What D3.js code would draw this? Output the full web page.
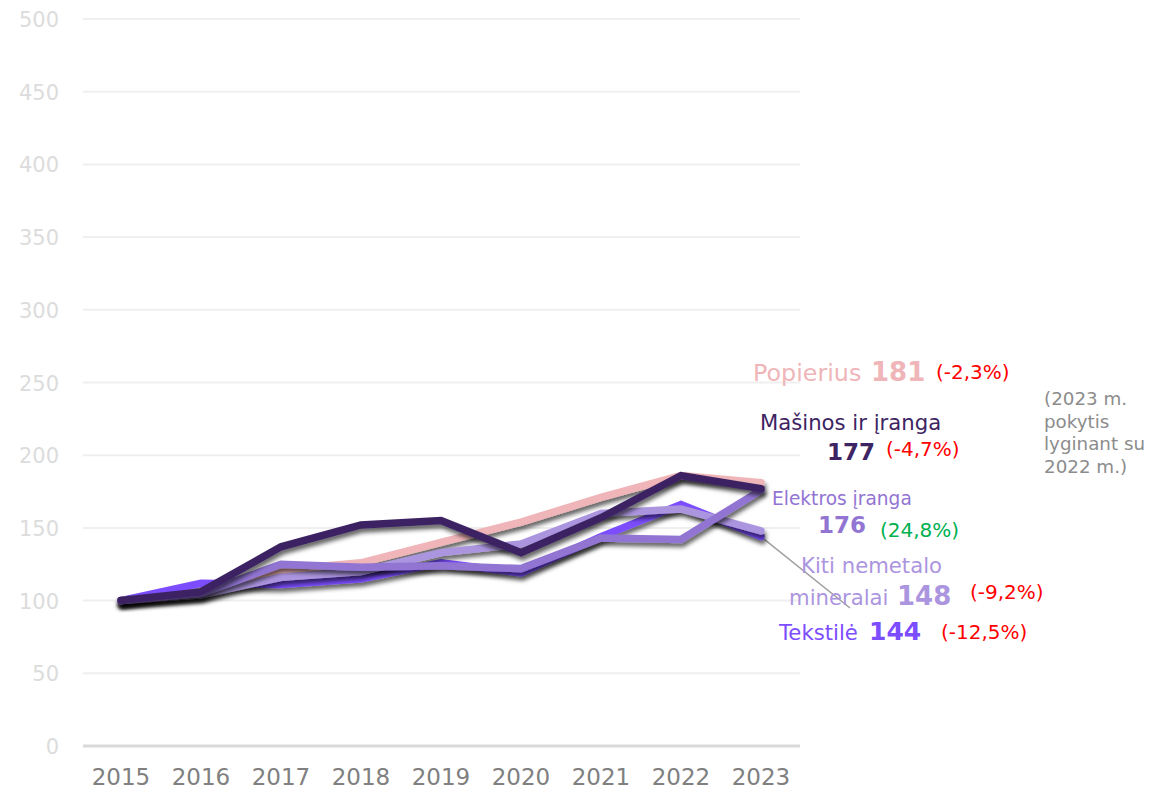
<!DOCTYPE html>
<html>
<head>
<meta charset="utf-8">
<script src="https://cdn.jsdelivr.net/npm/d3@7"></script>
<style>
    body { margin: 0; background: #fff; }
    svg text { font-family: "DejaVu Sans", Verdana, sans-serif; }
</style>
</head>
<body>
<svg id="chart" width="1149" height="791"></svg>
<script>
// index, 2015 = 100
var years = [2015, 2016, 2017, 2018, 2019, 2020, 2021, 2022, 2023];
var yTicks = [0, 50, 100, 150, 200, 250, 300, 350, 400, 450, 500];

var tekstile = [100, 112, 111, 115, 126, 119, 144, 166, 144];
var popierius = [100, 104, 121, 126, 140, 154, 171, 186, 181];
var kiti = [100, 104, 116, 120, 133, 139, 160, 163, 148];
var elektros = [100, 105, 125, 123, 124, 122, 143, 142, 176];
var masinos = [100, 106, 137, 152, 155, 133, 157, 186, 177];

// drawn back to front
var series = [
    {name: 'Tekstilė', values: tekstile, color: '#7c4dff'},
    {name: 'Popierius', values: popierius, color: '#efb5b8'},
    {name: 'Kiti nemetalo mineralai', values: kiti, color: '#ac95df'},
    {name: 'Elektros įranga', values: elektros, color: '#9274d3'},
    {name: 'Mašinos ir įranga', values: masinos, color: '#3d2463'}
];

var changes = ['-12,5%', '-2,3%', '-9,2%', '24,8%', '-4,7%'];

var svg = d3.select('#chart');
var margin = {top: 19, left: 83, right: 349, bottom: 45};
var width = 1149 - margin.left - margin.right;
var height = 791 - margin.top - margin.bottom;

var x = d3.scalePoint().domain(years).range([121, 761]);
var y = d3.scaleLinear().domain([0, 500]).range([746, 19]);

var defs = svg.append('defs');
var f = defs.append('filter').attr('id', 'shadow')
    .attr('x', '-10%').attr('y', '-30%').attr('width', '120%').attr('height', '160%');
f.append('feDropShadow')
    .attr('dx', 1.5).attr('dy', 4).attr('stdDeviation', 2)
    .attr('flood-color', '#000').attr('flood-opacity', 0.6);

// grid
svg.append('g').selectAll('line')
    .data(yTicks.filter(function (d) { return d > 0; }))
    .enter().append('line')
    .attr('x1', margin.left).attr('x2', margin.left + width)
    .attr('y1', y).attr('y2', y)
    .attr('stroke', '#efefef').attr('stroke-width', 2);

svg.append('line')
    .attr('x1', margin.left).attr('x2', margin.left + width)
    .attr('y1', y(0)).attr('y2', y(0))
    .attr('stroke', '#d9d9d9').attr('stroke-width', 3);

// y labels
svg.append('g').selectAll('text')
    .data(yTicks)
    .enter().append('text')
    .attr('x', 59).attr('y', function (d) { return y(d) + 8; })
    .attr('text-anchor', 'end')
    .attr('font-size', 21).attr('fill', '#dcdcdc')
    .text(function (d) { return d; });

// x labels
svg.append('g').selectAll('text')
    .data(years)
    .enter().append('text')
    .attr('x', x).attr('y', 785)
    .attr('text-anchor', 'middle')
    .attr('font-size', 23).attr('fill', '#808080')
    .text(function (d) { return d; });

// leader for Tekstilė
svg.append('line')
    .attr('x1', x(2023)).attr('y1', y(tekstile[8]))
    .attr('x2', 850).attr('y2', 608)
    .attr('stroke', '#a0a0a0').attr('stroke-width', 1.5);

var line = d3.line()
    .x(function (d, i) { return x(years[i]); })
    .y(function (d) { return y(d); });

svg.append('g').selectAll('path')
    .data(series)
    .enter().append('path')
    .attr('d', function (d) { return line(d.values); })
    .attr('fill', 'none')
    .attr('stroke', function (d) { return d.color; })
    .attr('stroke-width', 7.5)
    .attr('stroke-linecap', 'round')
    .attr('filter', 'url(#shadow)');

// end labels
function txt(str, px, py, size, color, bold) {
    svg.append('text')
        .attr('x', px).attr('y', py)
        .attr('font-size', size)
        .attr('font-weight', bold ? 'bold' : 'normal')
        .attr('fill', color)
        .text(str);
}

var red = '#ff0000', green = '#00b050';

txt('Popierius', 753, 381, 23.8, series[1].color);
txt(popierius[8], 871, 381, 26, series[1].color, true);
txt('(' + changes[1] + ')', 936, 379, 20, red);

txt('Mašinos ir įranga', 760, 430, 21.2, series[4].color);
txt(masinos[8], 827, 460, 23, series[4].color, true);
txt('(' + changes[4] + ')', 886, 456, 20, red);

txt('Elektros įranga', 772, 505, 18.6, series[3].color);
txt(elektros[8], 818, 533, 23, series[3].color, true);
txt('(' + changes[3] + ')', 880, 537, 20, green);

txt('Kiti nemetalo', 801, 573, 21.2, series[2].color);
txt('mineralai', 789, 605, 21.2, series[2].color);
txt(kiti[8], 897, 605, 26, series[2].color, true);
txt('(' + changes[2] + ')', 970, 599, 20, red);

txt('Tekstilė', 779, 640, 21.2, series[0].color);
txt(tekstile[8], 869, 640, 25, series[0].color, true);
txt('(' + changes[0] + ')', 941, 639, 20, red);

var note = ['(2023 m.', 'pokytis', 'lyginant su', '2022 m.)'];
note.forEach(function (s, i) {
    txt(s, 1044, 405 + i * 22.7, 18.3, '#8c8c8c');
});
</script>
</body>
</html>
